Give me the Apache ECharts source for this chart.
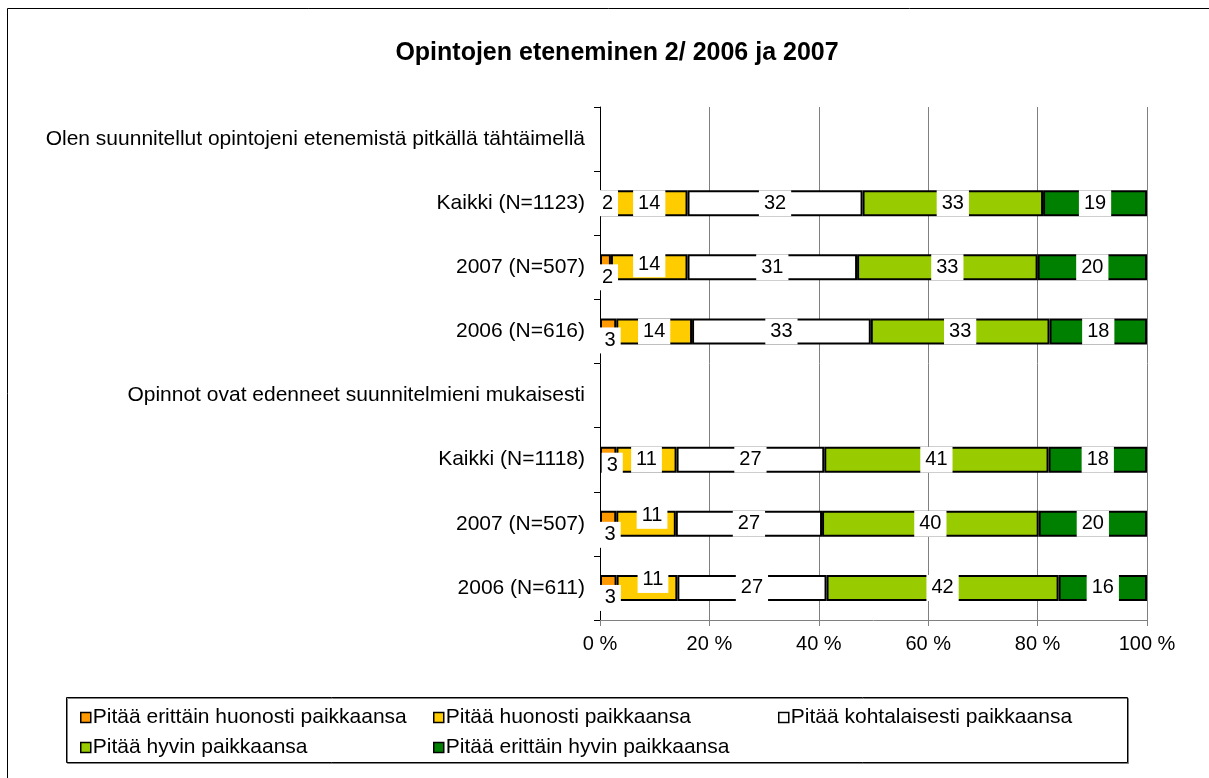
<!DOCTYPE html>
<html>
<head>
<meta charset="utf-8">
<title>Opintojen eteneminen</title>
<script src="https://cdn.jsdelivr.net/npm/echarts@6/dist/echarts.min.js"></script>
<style>
  html, body { margin: 0; padding: 0; background: #fff; }
  #chart { width: 1209px; height: 778px; }
</style>
</head>
<body>
<div id="chart"></div>
<script>
// Opintojen eteneminen 2/ 2006 ja 2007
var chart = echarts.init(document.getElementById("chart"));

var categories = [
    'Olen suunnitellut opintojeni etenemistä pitkällä tähtäimellä',
    'Kaikki (N=1123)',
    '2007 (N=507)',
    '2006 (N=616)',
    'Opinnot ovat edenneet suunnitelmieni mukaisesti',
    'Kaikki (N=1118)',
    '2007 (N=507)',
    '2006 (N=611)'
];
var seriesNames = [
    'Pitää erittäin huonosti paikkaansa',
    'Pitää huonosti paikkaansa',
    'Pitää kohtalaisesti paikkaansa',
    'Pitää hyvin paikkaansa',
    'Pitää erittäin hyvin paikkaansa'
];
// values per series, one per category row (null = header row)
var erittainHuonosti = [null, 2, 2, 3, null, 3, 3, 3];
var huonosti         = [null, 14, 14, 14, null, 11, 11, 11];
var kohtalaisesti    = [null, 32, 31, 33, null, 27, 27, 27];
var hyvin            = [null, 33, 33, 33, null, 41, 40, 42];
var erittainHyvin    = [null, 19, 20, 18, null, 18, 20, 16];
var xTicks = ['0 %', '20 %', '40 %', '60 %', '80 %', '100 %'];

var values = [erittainHuonosti, huonosti, kohtalaisesti, hyvin, erittainHyvin];
var colors = ['#ff9900', '#ffcc00', '#ffffff', '#99cc00', '#008000'];

// label nudges like Excel's overlap avoidance: "row,series" -> [dx, dy]
var labelShift = {
    '1,0': [2, 0],
    '2,0': [2, 10], '2,1': [0, -3],
    '3,0': [2, 9],
    '5,0': [4, 6],
    '6,0': [2, 11], '6,1': [6, -8],
    '7,0': [2, 10], '7,1': [6, -8]
};

// row sums for 100 % stacking
var rowSum = categories.map(function (c, i) {
    var s = 0;
    values.forEach(function (v) { s += v[i] || 0; });
    return s;
});

var font = 'Liberation Sans, Arial, sans-serif';

var series = values.map(function (vals, si) {
    return {
        name: seriesNames[si],
        type: 'bar',
        stack: 'all',
        barWidth: 26,
        itemStyle: {
            color: colors[si],
            borderColor: '#000',
            borderWidth: 2
        },
        label: {
            show: true,
            position: 'inside',
            color: '#000',
            fontFamily: font,
            fontSize: 20,
            backgroundColor: '#fff',
            padding: [3, 5],
            formatter: function (p) {
                return vals[p.dataIndex];
            }
        },
        emphasis: { disabled: true },
        data: vals.map(function (v, i) {
            if (v == null) return '-';
            var item = { value: v / rowSum[i] * 100 };
            var sh = labelShift[i + ',' + si];
            if (sh) item.label = { offset: sh };
            return item;
        })
    };
});

// one legend per item so the columns line up as in the original
var legendPos = [[80, 707], [433, 707], [778, 707], [80, 737], [433, 737]];
var legends = seriesNames.map(function (n, i) {
    return {
        data: [n],
        left: legendPos[i][0],
        top: legendPos[i][1],
        padding: 0,
        icon: 'rect',
        itemWidth: 10,
        itemHeight: 10,
        itemGap: 0,
        itemStyle: { borderColor: '#000', borderWidth: 1.5 },
        textStyle: { fontFamily: font, fontSize: 21, color: '#000', padding: [0, 0, 0, -3] },
        selectedMode: false
    };
});

var option = {
    backgroundColor: '#fff',
    animation: false,
    title: {
        text: 'Opintojen eteneminen 2/ 2006 ja 2007',
        left: 612,
        textAlign: 'center',
        top: 36,
        textStyle: { fontFamily: font, fontSize: 25, fontWeight: 'bold', color: '#000' }
    },
    graphic: [
        {
            type: 'rect',
            shape: { x: 7.5, y: 8.5, width: 1220, height: 800 },
            style: { fill: null, stroke: '#000', lineWidth: 1 },
            silent: true
        },
        {
            type: 'rect',
            shape: { x: 66.5, y: 697.5, width: 1061, height: 65 },
            style: { fill: '#fff', stroke: '#000', lineWidth: 1, shadowColor: '#808080', shadowOffsetX: 1, shadowOffsetY: 1 },
            silent: true,
            z: -1
        }
    ],
    legend: legends,
    grid: {
        left: 600,
        right: 62,
        top: 107,
        bottom: 158
    },
    xAxis: {
        type: 'value',
        min: 0,
        max: 100,
        interval: 20,
        axisLine: { show: true, lineStyle: { color: '#808080', width: 1 } },
        axisTick: { show: true, length: 6, lineStyle: { color: '#808080' } },
        splitLine: { show: true, lineStyle: { color: '#808080', width: 1 } },
        axisLabel: {
            margin: 14,
            fontFamily: font,
            fontSize: 20,
            color: '#000',
            formatter: function (v) { return xTicks[Math.round(v / 20)]; }
        }
    },
    yAxis: {
        type: 'category',
        inverse: true,
        data: categories,
        axisLine: { show: true, lineStyle: { color: '#000', width: 1 } },
        axisTick: { show: true, length: 6, lineStyle: { color: '#000' } },
        axisLabel: {
            margin: 15,
            fontFamily: font,
            fontSize: 21,
            color: '#000'
        }
    },
    series: series
};

chart.setOption(option);
window.addEventListener("resize", function () {
    chart.resize();
});
</script>
</body>
</html>
